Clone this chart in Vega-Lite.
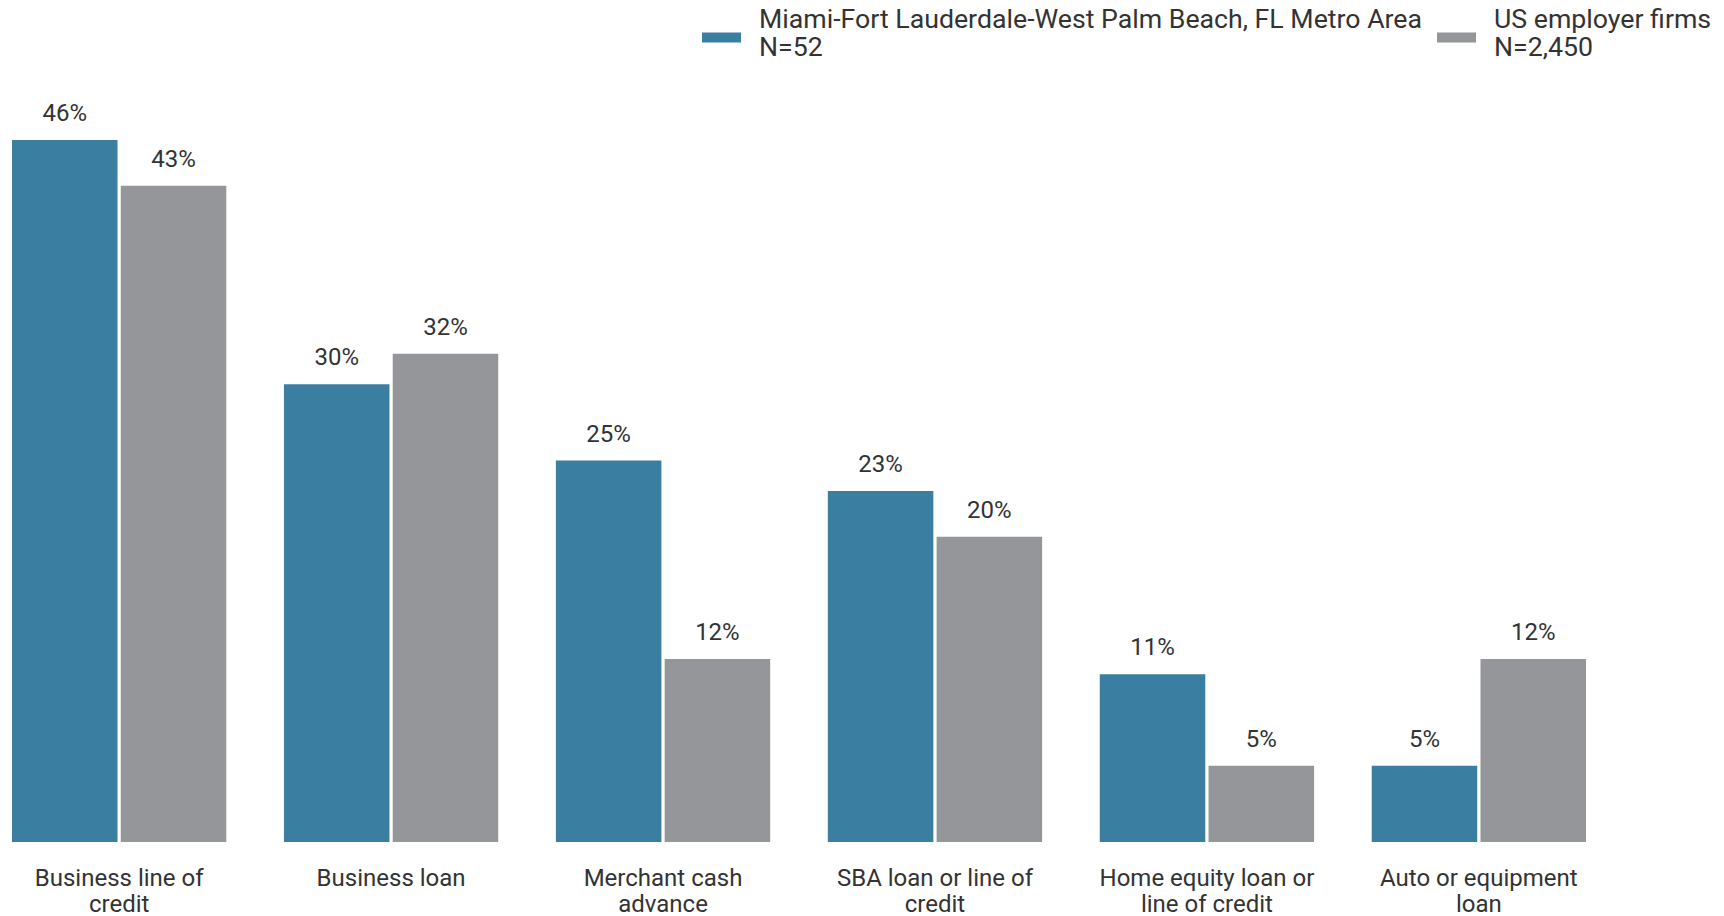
{
  "$schema": "https://vega.github.io/schema/vega-lite/v6.json",
  "width": 1574,
  "height": 763,
  "autosize": {"type": "none"},
  "padding": {"left": 12, "top": 79, "right": 138, "bottom": 74},
  "background": "white",
  "config": {
    "view": {"stroke": null},
    "font": "Roboto",
    "text": {"font": "Roboto"}
  },
  "data": {
    "values": [
      {"category": "Business line of credit", "series": "Miami-Fort Lauderdale-West Palm Beach, FL Metro Area|N=52", "value": 0.46},
      {"category": "Business line of credit", "series": "US employer firms|N=2,450", "value": 0.43},
      {"category": "Business loan", "series": "Miami-Fort Lauderdale-West Palm Beach, FL Metro Area|N=52", "value": 0.30},
      {"category": "Business loan", "series": "US employer firms|N=2,450", "value": 0.32},
      {"category": "Merchant cash advance", "series": "Miami-Fort Lauderdale-West Palm Beach, FL Metro Area|N=52", "value": 0.25},
      {"category": "Merchant cash advance", "series": "US employer firms|N=2,450", "value": 0.12},
      {"category": "SBA loan or line of credit", "series": "Miami-Fort Lauderdale-West Palm Beach, FL Metro Area|N=52", "value": 0.23},
      {"category": "SBA loan or line of credit", "series": "US employer firms|N=2,450", "value": 0.20},
      {"category": "Home equity loan or line of credit", "series": "Miami-Fort Lauderdale-West Palm Beach, FL Metro Area|N=52", "value": 0.11},
      {"category": "Home equity loan or line of credit", "series": "US employer firms|N=2,450", "value": 0.05},
      {"category": "Auto or equipment loan", "series": "Miami-Fort Lauderdale-West Palm Beach, FL Metro Area|N=52", "value": 0.05},
      {"category": "Auto or equipment loan", "series": "US employer firms|N=2,450", "value": 0.12}
    ]
  },
  "encoding": {
    "x": {
      "field": "category",
      "type": "nominal",
      "sort": null,
      "scale": {"paddingInner": 0.212, "paddingOuter": 0},
      "axis": {
        "title": null,
        "domain": false,
        "ticks": false,
        "labelAngle": 0,
        "labelFont": "Roboto",
        "labelFontSize": 24,
        "labelColor": "#333333",
        "labelPadding": 24,
        "labelLineHeight": 26,
        "labelLimit": 400,
        "labelExpr": "{'Business line of credit': ['Business line of', 'credit'], 'Business loan': 'Business loan', 'Merchant cash advance': ['Merchant cash', 'advance'], 'SBA loan or line of credit': ['SBA loan or line of', 'credit'], 'Home equity loan or line of credit': ['Home equity loan or', 'line of credit'], 'Auto or equipment loan': ['Auto or equipment', 'loan']}[datum.label]"
      }
    },
    "xOffset": {
      "field": "series",
      "type": "nominal",
      "sort": null,
      "scale": {"paddingInner": 0.03, "paddingOuter": 0}
    },
    "y": {
      "field": "value",
      "type": "quantitative",
      "scale": {"domain": [0, 0.5]},
      "axis": null
    }
  },
  "layer": [
    {
      "mark": {"type": "bar"},
      "encoding": {
        "color": {
          "field": "series",
          "type": "nominal",
          "sort": null,
          "scale": {"range": ["#3a7ea1", "#959699"]},
          "legend": {
            "title": null,
            "orient": "none",
            "direction": "horizontal",
            "legendX": 690,
            "legendY": -79,
            "symbolType": "M-1,0.66 L1,0.66 L1,1.18 L-1,1.18 Z",
            "symbolSize": 1521,
            "symbolStrokeWidth": 0,
            "symbolOpacity": 1,
            "labelFont": "Roboto",
            "labelFontSize": 26.7,
            "labelColor": "#333333",
            "labelLineHeight": 27.5,
            "labelLimit": 900,
            "labelOffset": 18,
            "columnPadding": 14,
            "labelExpr": "split(datum.label, '|')"
          }
        }
      }
    },
    {
      "mark": {
        "type": "text",
        "baseline": "bottom",
        "dy": -14,
        "font": "Roboto",
        "fontSize": 24,
        "color": "#333333"
      },
      "encoding": {
        "text": {"field": "value", "type": "quantitative", "format": ".0%"},
        "detail": {"field": "series"}
      }
    }
  ]
}
